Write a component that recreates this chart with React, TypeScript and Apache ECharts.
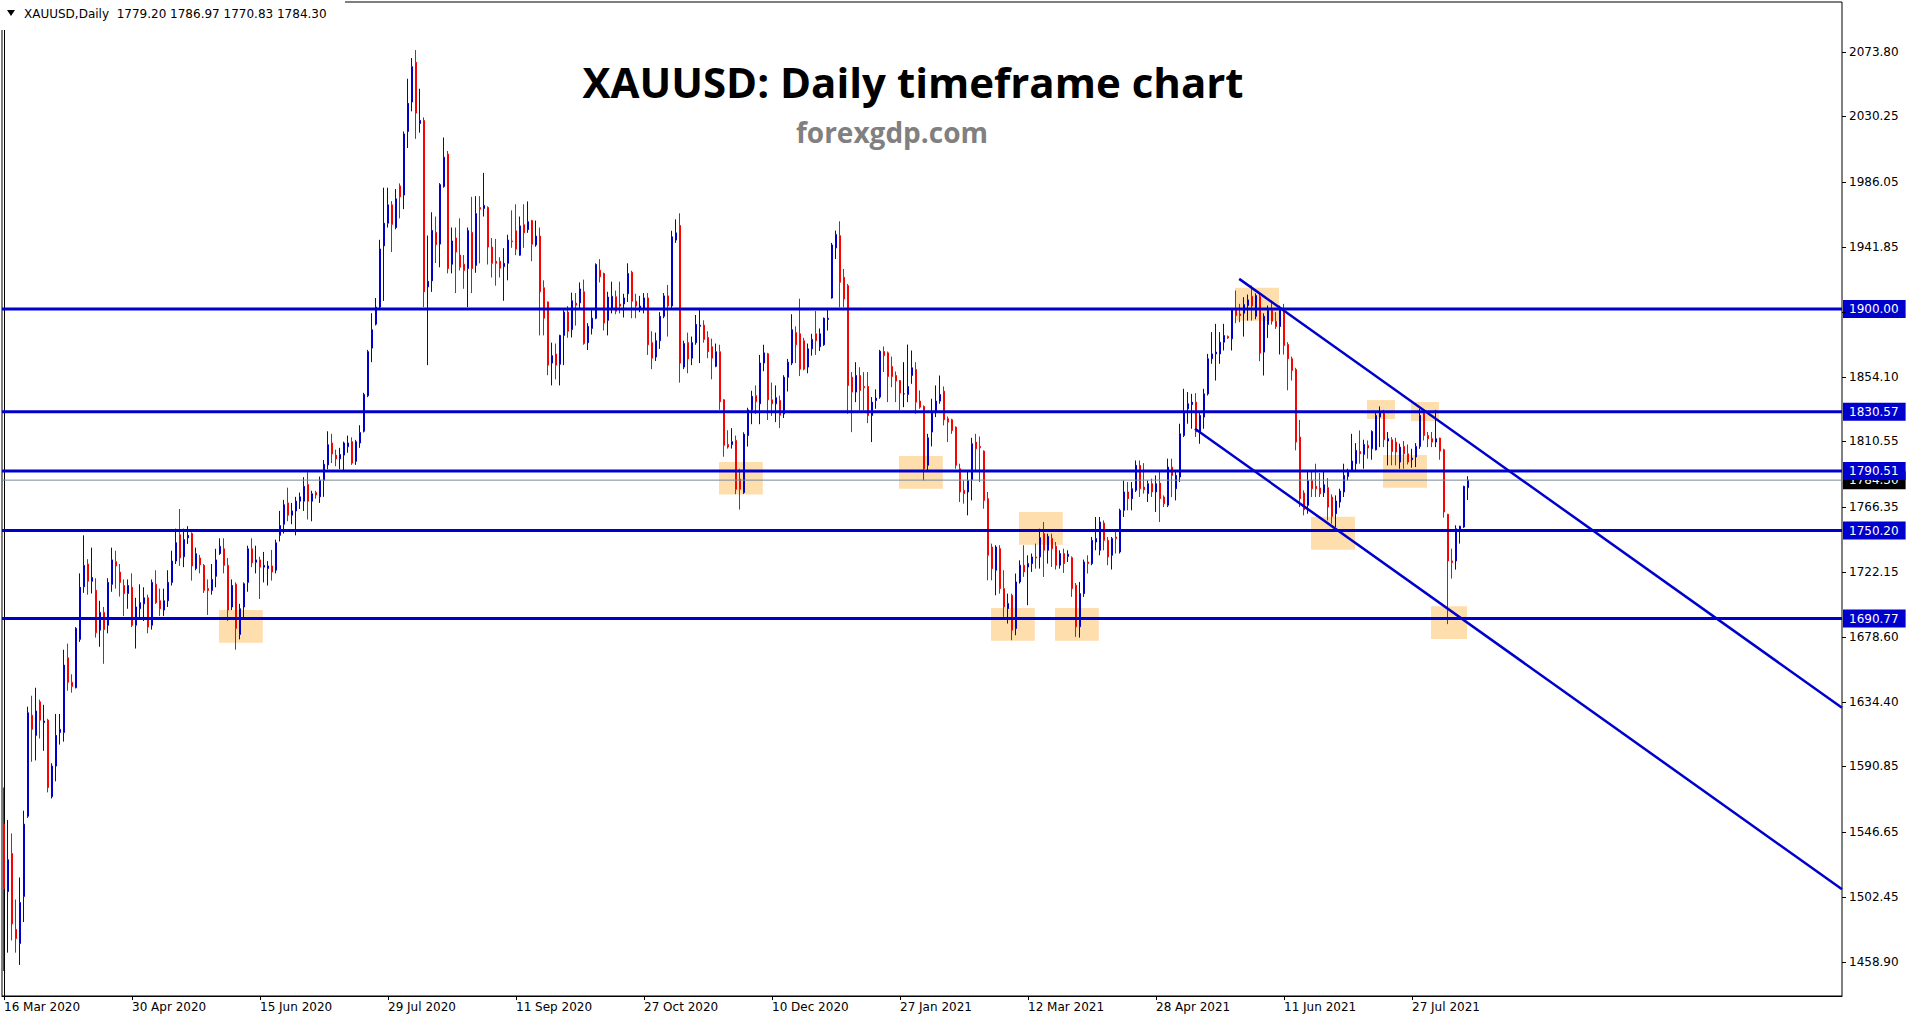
import { useEffect, useRef } from 'react';
import * as echarts from 'echarts';

// ---------------- data ----------------
const TITLE = 'XAUUSD: Daily timeframe chart';
const SUBTITLE = 'forexgdp.com';
const SYMBOL_HEADER = 'XAUUSD,Daily';

const FIRST_BAR_DATE = '2020-03-16';
const MARKET_HOLIDAYS = ['2020-04-10', '2020-12-25', '2021-01-01', '2021-04-02'];
const FUTURE_SLOTS = 93;
const LABEL_EVERY = 32;

// candles: [open, high, low, close]
const barsMarJun2020 = [
  [1551.8, 1576.6, 1452.6, 1508.4], [1506.3, 1554.7, 1465.0, 1527.8], [1532.0, 1545.6, 1473.3, 1484.4], [1480.7, 1500.9, 1465.0, 1474.5],
  [1471.2, 1515.8, 1456.7, 1498.9], [1503.0, 1560.9, 1485.7, 1551.8], [1557.2, 1631.2, 1556.0, 1627.1], [1625.4, 1638.6, 1594.0, 1615.9],
  [1611.8, 1644.0, 1594.9, 1628.3], [1634.5, 1636.0, 1609.7, 1622.1], [1620.5, 1632.5, 1601.4, 1621.5], [1622.1, 1623.0, 1573.3, 1576.6],
  [1570.4, 1593.0, 1569.2, 1591.1], [1591.1, 1626.3, 1580.8, 1611.8], [1613.8, 1626.3, 1605.6, 1615.9], [1613.8, 1669.7, 1607.6, 1659.3],
  [1664.3, 1673.8, 1642.0, 1647.7], [1647.7, 1653.1, 1640.7, 1644.9], [1644.0, 1685.0, 1643.6, 1684.1], [1676.7, 1721.3, 1675.0, 1711.9],
  [1712.3, 1747.0, 1708.1, 1726.7], [1727.6, 1730.9, 1706.9, 1716.0], [1716.0, 1738.7, 1707.7, 1718.5], [1709.8, 1718.0, 1677.9, 1681.2],
  [1682.9, 1702.8, 1671.7, 1694.9], [1694.9, 1698.6, 1660.2, 1683.3], [1686.2, 1718.0, 1680.8, 1715.2], [1713.9, 1738.7, 1708.9, 1730.4],
  [1729.2, 1736.6, 1711.0, 1726.3], [1722.2, 1727.6, 1705.6, 1715.2], [1713.1, 1717.2, 1692.4, 1707.7], [1707.7, 1717.2, 1697.4, 1713.1],
  [1711.9, 1721.3, 1685.0, 1686.2], [1686.2, 1704.8, 1670.5, 1698.6], [1697.4, 1713.9, 1690.3, 1701.5], [1700.7, 1711.9, 1689.1, 1704.8],
  [1704.8, 1706.9, 1680.8, 1685.0], [1686.2, 1717.2, 1683.3, 1715.2], [1713.9, 1723.4, 1700.7, 1701.5], [1702.8, 1711.0, 1692.4, 1697.4],
  [1696.5, 1711.0, 1692.4, 1702.8], [1702.8, 1723.4, 1698.6, 1715.2], [1715.2, 1736.6, 1713.1, 1729.6], [1729.6, 1751.5, 1727.6, 1742.0],
  [1747.4, 1764.8, 1726.3, 1731.7], [1732.5, 1751.5, 1725.5, 1744.1], [1745.3, 1753.2, 1741.2, 1747.0], [1748.2, 1749.0, 1716.4, 1726.3],
  [1724.6, 1738.7, 1723.4, 1734.6], [1731.7, 1733.8, 1721.3, 1727.1], [1726.7, 1727.6, 1708.1, 1709.8], [1711.0, 1717.2, 1693.2, 1709.8],
  [1709.8, 1727.6, 1706.9, 1717.2], [1719.3, 1737.9, 1711.9, 1730.4], [1734.6, 1745.0, 1733.8, 1739.6], [1737.9, 1745.0, 1721.3, 1726.7],
  [1726.7, 1731.7, 1689.1, 1696.5], [1698.6, 1717.2, 1696.5, 1713.1], [1713.9, 1715.2, 1669.7, 1684.1], [1680.0, 1700.7, 1676.7, 1697.4],
  [1698.6, 1715.2, 1690.3, 1714.3], [1715.2, 1740.0, 1708.9, 1737.9], [1737.9, 1745.0, 1725.5, 1728.4], [1728.8, 1740.0, 1721.3, 1730.4],
];

const barsJunOct2020 = [
  [1730.4, 1732.5, 1704.0, 1725.5], [1725.5, 1735.8, 1715.2, 1726.7], [1724.6, 1729.6, 1713.1, 1726.3], [1726.3, 1737.1, 1716.4, 1722.2],
  [1723.4, 1744.1, 1721.3, 1742.0], [1747.0, 1763.5, 1742.9, 1753.6], [1754.5, 1771.0, 1748.2, 1767.7], [1768.9, 1779.2, 1756.5, 1760.6],
  [1760.6, 1768.9, 1754.5, 1763.5], [1763.5, 1773.0, 1747.0, 1770.1], [1770.1, 1775.9, 1764.8, 1773.0], [1770.1, 1786.3, 1763.5, 1780.1],
  [1781.3, 1789.6, 1757.7, 1770.1], [1770.1, 1777.1, 1756.5, 1775.1], [1775.9, 1777.1, 1771.8, 1774.3], [1773.0, 1786.7, 1768.9, 1784.2],
  [1784.2, 1797.9, 1773.0, 1795.0], [1794.6, 1817.3, 1791.7, 1808.2], [1809.4, 1815.6, 1795.8, 1802.0], [1801.2, 1804.9, 1793.7, 1798.7],
  [1798.7, 1806.1, 1791.7, 1801.6], [1801.2, 1810.3, 1790.8, 1809.4], [1806.9, 1814.4, 1802.8, 1809.4], [1810.3, 1813.2, 1794.6, 1795.8],
  [1797.0, 1811.5, 1794.6, 1810.3], [1809.4, 1821.4, 1806.1, 1816.5], [1817.3, 1843.3, 1816.5, 1842.1], [1841.3, 1872.3, 1840.4, 1871.1],
  [1873.5, 1897.1, 1864.0, 1885.9], [1889.7, 1907.4, 1888.8, 1901.2], [1901.2, 1946.7, 1900.0, 1940.5], [1942.6, 1981.9, 1905.4, 1957.9],
  [1957.9, 1981.9, 1955.0, 1970.3], [1970.3, 1972.8, 1938.4, 1957.1], [1955.0, 1981.0, 1953.8, 1974.4], [1983.1, 1984.8, 1961.2, 1975.7],
  [1976.9, 2019.9, 1967.4, 2018.2], [2019.9, 2055.5, 2008.7, 2038.9], [2039.8, 2069.5, 2033.5, 2063.7], [2066.6, 2074.9, 2014.9, 2032.3],
  [2025.3, 2048.8, 2019.1, 2027.3], [2027.3, 2029.4, 1901.2, 1911.6], [1914.9, 1949.6, 1862.0, 1918.6], [1919.0, 1965.3, 1911.5, 1953.0],
  [1951.7, 1962.4, 1931.0, 1943.4], [1943.8, 1985.0, 1928.1, 1984.0], [1982.7, 2015.8, 1981.9, 2002.5], [2004.6, 2006.7, 1924.0, 1927.3],
  [1930.2, 1955.0, 1924.0, 1945.9], [1947.9, 1955.0, 1910.7, 1938.4], [1936.4, 1961.2, 1926.0, 1928.1], [1930.2, 1936.4, 1913.6, 1926.0],
  [1927.3, 1955.0, 1901.2, 1952.9], [1951.7, 1975.7, 1910.7, 1927.3], [1929.4, 1976.2, 1924.4, 1964.4], [1968.5, 1976.2, 1930.8, 1967.4],
  [1967.9, 1991.9, 1962.4, 1969.9], [1968.5, 1969.3, 1930.0, 1941.8], [1941.8, 1947.9, 1921.2, 1930.8], [1932.2, 1947.3, 1915.7, 1930.8],
  [1932.2, 1934.9, 1921.2, 1927.5], [1928.6, 1941.0, 1905.5, 1930.8], [1930.8, 1950.1, 1919.3, 1946.5], [1945.9, 1966.6, 1941.3, 1945.4],
  [1952.8, 1970.7, 1936.3, 1940.4], [1936.3, 1962.4, 1936.0, 1956.1], [1956.9, 1970.7, 1941.3, 1951.4], [1953.6, 1972.6, 1951.4, 1958.9],
  [1959.7, 1960.2, 1932.2, 1943.7], [1943.2, 1959.7, 1942.0, 1949.2], [1949.2, 1955.0, 1882.1, 1911.6], [1914.3, 1919.3, 1882.1, 1893.7],
  [1904.7, 1905.0, 1855.2, 1862.0], [1863.4, 1877.2, 1848.3, 1868.4], [1869.5, 1876.6, 1852.4, 1862.0], [1862.6, 1882.5, 1848.3, 1882.1],
  [1882.1, 1899.2, 1862.0, 1897.8], [1897.8, 1901.9, 1880.5, 1884.9], [1886.0, 1911.0, 1880.7, 1905.5], [1903.9, 1910.7, 1888.7, 1902.5],
  [1904.1, 1917.9, 1899.7, 1913.5], [1911.6, 1919.8, 1875.8, 1876.6], [1877.2, 1890.4, 1872.2, 1888.2], [1886.8, 1899.2, 1882.7, 1893.7],
  [1893.7, 1930.8, 1893.0, 1930.0], [1926.1, 1933.6, 1917.9, 1921.7], [1923.9, 1924.5, 1885.4, 1890.4], [1892.3, 1911.6, 1882.1, 1908.0],
  [1900.6, 1918.4, 1897.0, 1908.5], [1908.2, 1912.4, 1896.4, 1898.4], [1903.3, 1918.4, 1897.0, 1901.9], [1903.3, 1910.2, 1894.2, 1907.4],
  [1910.2, 1930.8, 1904.7, 1923.9], [1924.7, 1925.8, 1893.7, 1905.2], [1905.2, 1910.2, 1893.7, 1901.9], [1900.6, 1908.8, 1897.8, 1901.9],
];

const barsOct2020Mar2021 = [
  [1900.5, 1910.7, 1897.0, 1907.4], [1907.4, 1910.7, 1868.9, 1875.8], [1877.2, 1884.9, 1859.3, 1866.7], [1867.5, 1884.0, 1864.8, 1878.5],
  [1878.5, 1897.8, 1873.0, 1895.0], [1895.0, 1910.7, 1893.7, 1908.8], [1908.8, 1916.2, 1881.3, 1902.0], [1902.0, 1952.8, 1900.5, 1948.7],
  [1946.5, 1960.5, 1944.6, 1951.4], [1956.4, 1964.6, 1850.2, 1863.4], [1860.7, 1878.5, 1859.3, 1876.6], [1877.2, 1884.0, 1856.5, 1866.2],
  [1866.7, 1881.3, 1862.0, 1877.2], [1877.2, 1895.9, 1875.8, 1889.5], [1888.2, 1899.2, 1863.4, 1889.0], [1889.0, 1892.3, 1877.2, 1879.4],
  [1880.7, 1884.9, 1866.7, 1871.1], [1874.4, 1879.9, 1852.4, 1866.7], [1861.2, 1876.6, 1860.6, 1871.1], [1871.1, 1875.8, 1831.8, 1837.3],
  [1838.6, 1839.0, 1800.1, 1807.8], [1808.4, 1818.0, 1805.6, 1806.7], [1808.4, 1819.4, 1805.6, 1810.3], [1811.1, 1814.4, 1774.8, 1778.1],
  [1785.0, 1791.9, 1764.4, 1778.1], [1775.9, 1816.6, 1775.0, 1815.3], [1814.4, 1833.2, 1807.0, 1831.8], [1831.8, 1844.7, 1822.1, 1840.9],
  [1841.4, 1848.3, 1829.0, 1837.3], [1835.9, 1868.9, 1822.1, 1863.4], [1863.4, 1875.8, 1857.9, 1870.3], [1869.7, 1870.3, 1824.9, 1838.6],
  [1838.6, 1850.2, 1827.7, 1835.9], [1835.9, 1848.3, 1823.5, 1840.0], [1838.1, 1841.4, 1819.4, 1828.2], [1829.0, 1855.2, 1826.3, 1853.8],
  [1853.8, 1866.2, 1844.2, 1864.0], [1863.4, 1896.4, 1862.0, 1885.9], [1884.0, 1888.2, 1863.4, 1875.8], [1883.2, 1906.9, 1854.6, 1859.3],
  [1878.5, 1880.5, 1858.5, 1859.3], [1860.7, 1876.6, 1856.5, 1873.0], [1873.0, 1883.2, 1868.4, 1879.4], [1883.2, 1898.6, 1868.9, 1878.5],
  [1874.4, 1886.8, 1871.6, 1883.2], [1875.8, 1894.2, 1875.0, 1893.7], [1892.9, 1899.2, 1885.4, 1893.7], [1907.4, 1944.6, 1906.9, 1943.2],
  [1941.2, 1952.9, 1933.7, 1950.2], [1949.5, 1959.2, 1901.1, 1918.0], [1921.4, 1927.0, 1901.1, 1906.7], [1915.7, 1916.9, 1829.1, 1848.3],
  [1853.9, 1857.3, 1816.7, 1843.8], [1843.8, 1864.0, 1837.0, 1855.0], [1855.0, 1860.6, 1831.4, 1844.9], [1847.6, 1857.3, 1831.4, 1846.7],
  [1847.6, 1857.3, 1822.8, 1828.0], [1828.0, 1840.4, 1810.0, 1837.0], [1838.1, 1845.6, 1832.5, 1839.7], [1840.4, 1872.3, 1839.3, 1871.4],
  [1871.2, 1874.6, 1857.3, 1868.5], [1870.3, 1871.2, 1837.0, 1854.3], [1861.1, 1867.8, 1847.1, 1854.3], [1855.0, 1857.7, 1837.0, 1851.2],
  [1851.6, 1852.0, 1831.4, 1843.1], [1842.6, 1864.0, 1833.6, 1842.6], [1842.2, 1875.9, 1837.0, 1847.6], [1855.0, 1871.9, 1849.4, 1860.2],
  [1859.1, 1864.0, 1829.1, 1837.0], [1837.7, 1844.9, 1832.5, 1833.6], [1834.1, 1834.8, 1784.1, 1792.0], [1794.3, 1815.6, 1790.9, 1812.9],
  [1816.8, 1839.3, 1807.1, 1830.3], [1830.3, 1848.3, 1826.9, 1837.7], [1837.7, 1855.0, 1835.9, 1842.2], [1844.4, 1847.6, 1821.3, 1825.1],
  [1825.8, 1827.3, 1810.0, 1823.5], [1825.1, 1825.8, 1815.6, 1817.9], [1820.1, 1820.6, 1792.0, 1794.3], [1792.0, 1795.4, 1769.5, 1776.3],
  [1777.4, 1784.1, 1768.4, 1775.2], [1776.3, 1790.9, 1760.5, 1784.1], [1784.6, 1812.9, 1770.6, 1808.9], [1810.0, 1815.6, 1790.9, 1805.5],
  [1807.1, 1813.8, 1783.0, 1806.2], [1803.9, 1804.4, 1765.0, 1770.6], [1771.8, 1776.3, 1716.6, 1733.5], [1739.1, 1741.4, 1716.6, 1724.5],
  [1723.4, 1740.3, 1706.5, 1739.1], [1738.0, 1740.3, 1707.6, 1711.0], [1711.0, 1723.4, 1691.9, 1698.6], [1697.5, 1707.6, 1687.4, 1700.9],
  [1706.5, 1707.6, 1676.1, 1682.9], [1684.0, 1721.2, 1679.5, 1715.5], [1715.5, 1730.1, 1714.4, 1726.8], [1726.8, 1740.3, 1718.9, 1722.3],
];

const barsMarAug2021 = [
  [1725.6, 1733.5, 1699.8, 1727.9], [1727.9, 1734.7, 1722.3, 1732.4], [1732.4, 1741.4, 1724.5, 1731.7], [1732.4, 1751.5, 1724.5, 1745.4],
  [1748.1, 1756.0, 1718.9, 1736.9], [1736.9, 1748.1, 1727.9, 1746.3], [1744.8, 1748.1, 1725.6, 1738.0], [1739.6, 1742.5, 1723.9, 1726.8],
  [1726.8, 1736.9, 1724.5, 1734.7], [1734.7, 1738.0, 1721.6, 1727.9], [1732.8, 1736.9, 1729.0, 1734.2], [1731.9, 1732.8, 1705.4, 1711.0],
  [1713.3, 1714.8, 1678.4, 1685.2], [1685.2, 1715.5, 1677.9, 1707.6], [1707.6, 1730.6, 1705.4, 1729.0], [1729.0, 1733.5, 1721.2, 1727.9],
  [1727.9, 1745.9, 1726.8, 1743.6], [1742.5, 1759.4, 1736.9, 1744.8], [1736.9, 1759.4, 1733.5, 1756.0], [1755.3, 1757.1, 1736.9, 1743.6],
  [1743.6, 1745.9, 1726.8, 1732.4], [1733.5, 1745.9, 1723.9, 1744.8], [1745.9, 1750.4, 1734.7, 1744.8], [1735.8, 1765.0, 1734.7, 1763.9],
  [1763.9, 1784.1, 1759.4, 1776.3], [1776.3, 1783.0, 1763.9, 1771.8], [1771.8, 1783.0, 1763.9, 1778.5], [1777.4, 1797.6, 1776.3, 1794.3],
  [1794.3, 1797.6, 1772.9, 1778.5], [1779.6, 1795.8, 1775.2, 1777.8], [1775.2, 1784.1, 1769.5, 1781.9], [1781.9, 1785.3, 1772.9, 1776.3],
  [1776.3, 1787.5, 1762.8, 1781.9], [1782.3, 1789.8, 1756.0, 1771.8], [1772.9, 1774.0, 1766.1, 1768.4], [1767.3, 1798.8, 1766.1, 1793.1],
  [1793.1, 1798.8, 1772.9, 1787.5], [1778.5, 1789.8, 1770.6, 1787.5], [1786.4, 1822.4, 1783.0, 1815.6], [1814.5, 1846.0, 1813.4, 1830.3],
  [1832.5, 1843.8, 1822.4, 1835.9], [1835.4, 1842.6, 1819.0, 1837.0], [1837.0, 1843.1, 1813.4, 1816.8], [1816.8, 1830.3, 1808.9, 1828.0],
  [1826.9, 1846.0, 1819.0, 1842.6], [1842.6, 1869.6, 1841.5, 1866.3], [1866.3, 1884.3, 1862.9, 1869.6], [1869.6, 1889.9, 1851.6, 1870.8],
  [1869.6, 1884.3, 1862.9, 1877.5], [1877.5, 1889.9, 1871.9, 1882.0], [1881.3, 1882.0, 1879.8, 1880.4], [1879.8, 1900.0, 1871.9, 1899.3],
  [1899.3, 1912.4, 1890.3, 1895.5], [1896.6, 1903.4, 1891.0, 1895.5], [1897.1, 1907.9, 1881.3, 1902.9], [1902.3, 1909.7, 1892.1, 1906.1],
  [1908.5, 1915.7, 1892.1, 1902.0], [1895.0, 1910.5, 1893.0, 1909.0], [1908.3, 1910.1, 1864.7, 1870.1], [1870.8, 1897.0, 1855.0, 1895.0],
  [1889.4, 1902.3, 1880.4, 1898.9], [1898.9, 1905.6, 1889.4, 1891.7], [1891.7, 1897.8, 1886.5, 1888.1], [1888.1, 1902.2, 1869.2, 1901.1],
  [1899.3, 1903.4, 1869.2, 1875.3], [1876.0, 1877.5, 1845.0, 1866.3], [1866.3, 1867.8, 1851.6, 1858.4], [1859.0, 1860.2, 1804.4, 1810.0],
  [1813.4, 1825.0, 1766.1, 1771.8], [1775.6, 1777.4, 1760.5, 1764.3], [1767.3, 1790.9, 1761.6, 1784.0], [1784.0, 1790.9, 1772.9, 1778.5],
  [1780.1, 1795.4, 1772.9, 1778.5], [1779.0, 1789.1, 1772.9, 1775.0], [1775.8, 1790.9, 1772.9, 1781.2], [1779.2, 1785.7, 1757.1, 1766.1],
  [1772.9, 1774.7, 1754.9, 1759.8], [1761.6, 1774.0, 1752.6, 1770.2], [1769.5, 1778.5, 1765.7, 1776.9], [1776.3, 1795.4, 1772.9, 1787.5],
  [1786.8, 1792.0, 1784.1, 1789.8], [1790.9, 1815.6, 1789.8, 1797.2], [1795.4, 1809.3, 1790.9, 1804.4], [1803.7, 1817.9, 1795.4, 1802.1],
  [1801.7, 1811.6, 1792.0, 1808.4], [1807.8, 1811.1, 1798.8, 1806.0], [1805.5, 1817.9, 1798.1, 1817.2], [1804.8, 1830.7, 1804.4, 1828.0],
  [1826.9, 1834.1, 1806.6, 1830.3], [1829.8, 1831.8, 1806.6, 1811.6], [1810.7, 1816.8, 1794.3, 1812.3], [1811.6, 1813.4, 1794.3, 1803.7],
  [1810.0, 1812.9, 1794.3, 1803.3], [1796.5, 1808.9, 1792.0, 1806.6], [1807.1, 1810.7, 1792.0, 1802.1], [1802.1, 1808.4, 1794.9, 1796.5],
  [1798.1, 1805.5, 1792.7, 1799.2], [1799.9, 1809.3, 1793.1, 1807.1], [1807.1, 1832.5, 1805.5, 1828.0], [1829.6, 1831.8, 1811.1, 1814.5],
  [1814.5, 1816.8, 1806.6, 1812.3], [1812.3, 1816.8, 1806.6, 1810.0], [1810.0, 1831.8, 1806.6, 1812.3], [1812.7, 1813.0, 1798.1, 1803.9],
  [1804.8, 1805.5, 1759.0, 1762.8], [1761.2, 1761.5, 1687.0, 1729.7], [1729.7, 1738.0, 1717.8, 1728.6], [1729.7, 1753.8, 1723.8, 1751.5],
  [1750.4, 1753.5, 1741.4, 1753.1], [1752.6, 1780.5, 1752.0, 1780.1], [1779.20, 1786.97, 1770.83, 1784.30],
];

// horizontal support / resistance levels and the current bid
const LEVELS = [1900.0, 1830.57, 1790.51, 1750.2, 1690.77];
const BID = 1784.3;

// descending channel: [bar position, price]
const CHANNEL_UPPER = [[308.8, 1920.3], [459.5, 1630.5]];
const CHANNEL_LOWER = [[297.75, 1819.0], [459.5, 1507.8]];

// highlight zones: [from bar, to bar, low price, high price]
const ZONES = [
  [53.75, 64.7, 1674.5, 1696.5],
  [178.75, 189.7, 1774.6, 1796.6],
  [223.75, 234.7, 1778.5, 1800.6],
  [253.75, 264.7, 1740.7, 1762.8],
  [246.75, 257.7, 1675.8, 1697.9],
  [262.75, 273.7, 1675.8, 1697.9],
  [307.75, 318.75, 1892.0, 1914.3],
  [340.75, 347.75, 1825.6, 1838.4],
  [351.75, 358.75, 1824.2, 1837.1],
  [344.75, 355.75, 1779.2, 1801.3],
  [326.75, 337.75, 1737.3, 1759.6],
  [356.75, 365.75, 1676.9, 1699.1],
];

// price scale ticks; the tick under the 1900.00 tag carries no label
const PRICE_TICKS = [
  1458.9, 1502.45, 1546.65, 1590.85, 1634.4, 1678.6, 1722.15, 1766.35,
  1810.55, 1854.1, 1897.95, 1941.85, 1986.05, 2030.25, 2073.8,
];
const PRICE_TICKS_HIDDEN = [1897.95];
const PRICE_AXIS_MIN = 1435.72;
const PRICE_AXIS_MAX = 2107.38;

// ---------------- helpers ----------------
const BLUE = '#0000CD';
const RED = '#FF0000';
const ZONE_FILL = '#FFDEAD';
const BID_GREY = '#778899';
const MONTHS = ['Jan', 'Feb', 'Mar', 'Apr', 'May', 'Jun', 'Jul', 'Aug', 'Sep', 'Oct', 'Nov', 'Dec'];

function tradingDays(start: string, count: number, holidays: string[]): string[] {
  const out: string[] = [];
  const d = new Date(start + 'T00:00:00Z');
  while (out.length < count) {
    const dow = d.getUTCDay();
    const iso = d.toISOString().slice(0, 10);
    if (dow !== 0 && dow !== 6 && !holidays.includes(iso)) {
      out.push(`${d.getUTCDate()} ${MONTHS[d.getUTCMonth()]} ${d.getUTCFullYear()}`);
    }
    d.setUTCDate(d.getUTCDate() + 1);
  }
  return out;
}

export default function App() {
  const ref = useRef<HTMLDivElement>(null);

  useEffect(() => {
    document.body.style.margin = '0';
    if (!ref.current) return;
    const chart = echarts.init(ref.current, undefined, { renderer: 'svg' });

    const bars = [...barsMarJun2020, ...barsJunOct2020, ...barsOct2020Mar2021, ...barsMarAug2021];
    const dates = tradingDays(FIRST_BAR_DATE, bars.length, MARKET_HOLIDAYS);
    const slots = bars.length + FUTURE_SLOTS;
    const categories = [...dates, ...Array.from({ length: FUTURE_SLOTS }, (_, i) => `future-${i}`)];
    const xMin = -0.5;
    const xMax = slots - 0.5;
    const last = bars[bars.length - 1];
    const header = `${SYMBOL_HEADER}\u00a0\u00a0${last.map((v) => v.toFixed(2)).join(' ')}`;
    const isLabelled = (i: number) => i % LABEL_EVERY === 0 && i < dates.length;

    const font = 'DejaVu Sans';
    const tag = (bg: string) => ({
      show: true,
      color: '#ffffff',
      backgroundColor: bg,
      fontFamily: font,
      fontSize: 12,
      lineHeight: 14,
      padding: [2, 7, 2, 6],
      distance: 1,
    });

    const levelSeries = LEVELS.map((v) => ({
      type: 'line',
      xAxisIndex: 1,
      yAxisIndex: 0,
      data: [[xMin, v], [xMax, v]],
      symbol: 'none',
      silent: true,
      z: 6,
      lineStyle: { color: BLUE, width: 3 },
      endLabel: { ...tag(BLUE), formatter: v.toFixed(2) },
    }));

    chart.setOption({
      animation: false,
      backgroundColor: '#ffffff',
      grid: {
        left: 2,
        top: 2,
        right: 71,
        bottom: 27,
        show: true,
        borderColor: '#000',
        borderWidth: 1,
        backgroundColor: '#ffffff',
      },
      xAxis: [
        {
          type: 'category',
          data: categories,
          boundaryGap: true,
          axisLine: { show: true, lineStyle: { color: '#000', width: 1 } },
          axisTick: { show: true, alignWithLabel: true, length: 4, interval: (i: number) => isLabelled(i), lineStyle: { color: '#000' } },
          axisLabel: {
            interval: (i: number) => isLabelled(i),
            align: 'left',
            margin: 5,
            color: '#000',
            fontFamily: font,
            fontSize: 12,
          },
          splitLine: { show: false },
        },
        {
          type: 'value',
          min: xMin,
          max: xMax,
          show: false,
        },
      ],
      yAxis: [
        {
          type: 'value',
          position: 'right',
          min: PRICE_AXIS_MIN,
          max: PRICE_AXIS_MAX,
          axisLine: { show: true, lineStyle: { color: '#000', width: 1 } },
          axisTick: { show: false },
          axisLabel: { show: false },
          splitLine: { show: false },
        },
      ],
      series: [
        {
          type: 'custom',
          xAxisIndex: 1,
          yAxisIndex: 0,
          z: 1,
          silent: true,
          data: ZONES,
          encode: { x: [0, 1], y: [2, 3] },
          renderItem: (_p: any, api: any) => {
            const a = api.coord([api.value(0), api.value(3)]);
            const b = api.coord([api.value(1), api.value(2)]);
            return {
              type: 'rect',
              shape: { x: a[0], y: a[1], width: b[0] - a[0], height: b[1] - a[1] },
              style: { fill: ZONE_FILL },
            };
          },
        },
        {
          // price scale: tick marks and labels just right of the axis line
          type: 'custom',
          xAxisIndex: 1,
          yAxisIndex: 0,
          z: 8,
          silent: true,
          clip: false,
          data: PRICE_TICKS.map((v) => [xMax, v]),
          encode: { x: 0, y: 1 },
          renderItem: (_p: any, api: any) => {
            const v = api.value(1);
            const p = api.coord([api.value(0), v]);
            const y = Math.round(p[1]) + 0.5;
            const children: any[] = [
              { type: 'line', shape: { x1: p[0], y1: y, x2: p[0] + 4, y2: y }, style: { stroke: '#000', lineWidth: 1 } },
            ];
            if (!PRICE_TICKS_HIDDEN.includes(v)) {
              children.push({
                type: 'text',
                x: p[0] + 7,
                y: p[1],
                style: { text: v.toFixed(2), fill: '#000', fontFamily: font, fontSize: 12, align: 'left', verticalAlign: 'middle' },
              });
            }
            return { type: 'group', children };
          },
        },
        {
          type: 'candlestick',
          xAxisIndex: 0,
          yAxisIndex: 0,
          z: 3,
          silent: true,
          barWidth: 2,
          data: bars.map(([o, h, l, c]) => [o, c, l, h]),
          itemStyle: {
            color: BLUE,
            color0: RED,
            borderColor: BLUE,
            borderColor0: RED,
            borderColorDoji: '#000',
            borderWidth: 1,
          },
        },
        {
          type: 'line',
          xAxisIndex: 1,
          yAxisIndex: 0,
          data: [[xMin, BID], [xMax, BID]],
          symbol: 'none',
          silent: true,
          z: 4,
          lineStyle: { color: BID_GREY, width: 1 },
          endLabel: { ...tag('#000'), formatter: BID.toFixed(2) },
        },
        ...levelSeries,
        {
          type: 'line',
          xAxisIndex: 1,
          yAxisIndex: 0,
          data: CHANNEL_UPPER,
          symbol: 'none',
          silent: true,
          z: 7,
          lineStyle: { color: BLUE, width: 2.5 },
        },
        {
          type: 'line',
          xAxisIndex: 1,
          yAxisIndex: 0,
          data: CHANNEL_LOWER,
          symbol: 'none',
          silent: true,
          z: 7,
          lineStyle: { color: BLUE, width: 2.5 },
        },
      ],
      graphic: [
        {
          type: 'rect',
          z: 99,
          shape: { x: 0, y: 0, width: 345, height: 30 },
          style: { fill: '#ffffff' },
        },
        {
          type: 'polygon',
          z: 100,
          shape: { points: [[7, 10], [15, 10], [11, 16]] },
          style: { fill: '#000' },
        },
        {
          type: 'text',
          z: 100,
          x: 24,
          y: 14,
          style: { text: header, fontFamily: font, fontSize: 12, fill: '#000', verticalAlign: 'middle' },
        },
        {
          type: 'text',
          z: 100,
          x: 913,
          y: 81,
          style: {
            text: TITLE,
            fontFamily: 'Open Sans',
            fontWeight: 'bold',
            fontSize: 42,
            fill: '#000',
            align: 'center',
            verticalAlign: 'middle',
          },
        },
        {
          type: 'text',
          z: 100,
          x: 892,
          y: 132,
          style: {
            text: SUBTITLE,
            fontFamily: 'Open Sans',
            fontWeight: 'bold',
            fontSize: 28,
            fill: '#808080',
            align: 'center',
            verticalAlign: 'middle',
          },
        },
      ],
    });

    return () => chart.dispose();
  }, []);

  return (
    <div
      ref={ref}
      style={{ position: 'fixed', left: 0, top: 0, width: 1913, height: 1023, background: '#fff' }}
    />
  );
}
